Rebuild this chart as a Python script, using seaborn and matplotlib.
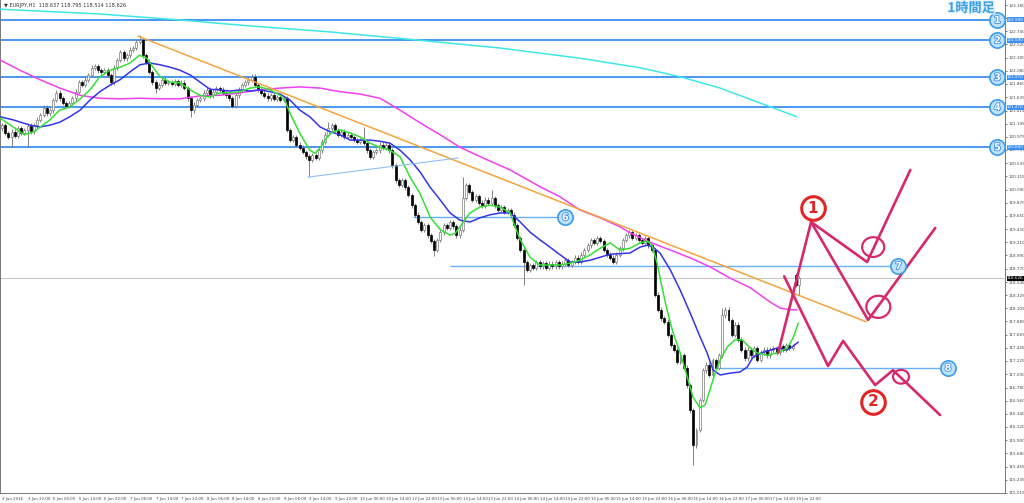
import numpy as np
import pandas as pd
import matplotlib
matplotlib.use("Agg")
import matplotlib.pyplot as plt
import matplotlib.patheffects as pe
from matplotlib.patches import Ellipse
import seaborn as sns

# ---- EURJPY H1 closes (one value per bar) ----
closes = [
    121.17, 121.04, 120.97, 121.06, 120.99, 121.12, 121.04, 121.09, 121.16, 121.07,
    121.17, 121.26, 121.34, 121.46, 121.37, 121.42, 121.59, 121.71, 121.62, 121.54,
    121.49, 121.54, 121.62, 121.73, 121.89, 121.84, 121.93, 122.01, 122.13, 122.16,
    122.09, 122.06, 122.09, 122.01, 121.89, 122.13, 122.26, 122.39, 122.29, 122.34,
    122.43, 122.46, 122.56, 122.59, 122.34, 122.23, 122.06, 121.89, 121.79, 121.84,
    121.93, 121.88, 121.89, 121.86, 121.91, 121.84, 121.88, 121.79, 121.62, 121.42,
    121.51, 121.59, 121.62, 121.71, 121.76, 121.67, 121.73, 121.79, 121.76, 121.71,
    121.67, 121.62, 121.49, 121.67, 121.76, 121.84, 121.89, 121.93, 121.98, 121.84,
    121.76, 121.71, 121.66, 121.62, 121.67, 121.61, 121.64, 121.59, 121.62, 121.09,
    120.92, 120.97, 120.84, 120.79, 120.72, 120.65, 120.59, 120.67, 120.62, 120.75,
    120.89, 121.01, 121.12, 121.17, 121.09, 121.01, 121.06, 120.97, 121.01, 120.97,
    120.92, 120.89, 120.92, 120.87, 120.75, 120.64, 120.72, 120.75, 120.84, 120.79,
    120.84, 120.75, 120.50, 120.25, 120.17, 120.25, 120.13, 120.00, 119.83, 119.67,
    119.55, 119.42, 119.50, 119.33, 119.23, 119.08, 119.25, 119.38, 119.50, 119.45,
    119.55, 119.48, 119.33, 119.42, 119.95, 120.17, 120.05, 119.92, 119.98, 119.87,
    119.83, 119.92, 119.87, 119.95, 119.83, 119.75, 119.80, 119.72, 119.75, 119.67,
    119.50, 119.28, 119.08, 118.88, 118.75, 118.83, 118.78, 118.88, 118.81, 118.86,
    118.78, 118.85, 118.81, 118.88, 118.81, 118.85, 118.91, 118.83, 118.88, 118.95,
    118.88, 119.00, 119.08, 119.16, 119.25, 119.20, 119.28, 119.23, 119.08, 119.00,
    118.95, 118.88, 119.00, 119.11, 119.25, 119.33, 119.38, 119.28, 119.33, 119.25,
    119.20, 119.28, 119.16, 119.08, 118.33, 118.08, 117.94, 117.88, 117.66, 117.49,
    117.41, 117.21, 117.32, 117.11, 116.82, 116.40, 115.81, 116.07, 116.57, 117.07,
    117.16, 116.99, 117.24, 117.11, 117.32, 117.99, 118.08, 117.91, 117.66, 117.83,
    117.58, 117.41, 117.27, 117.41, 117.32, 117.44, 117.24, 117.37, 117.41, 117.32,
    117.41, 117.44, 117.37, 117.47, 117.41, 117.49, 117.44, 117.47, 118.50, 118.61,
]
first_open = 121.12
gap_opens = {248: 118.66}          # weekend gap on Monday open
wick_high = {43: 122.68, 78: 122.03, 102: 121.22, 113: 121.14, 144: 120.30,
             153: 120.09, 196: 119.42, 225: 118.11}
wick_low = {3: 120.80, 8: 120.80, 48: 121.71, 59: 121.30, 96: 120.30,
            135: 118.98, 163: 118.50, 216: 115.48, 249: 118.33}

# ---- moving averages (bar, price) ----
ma_fast = [(-0.6, 121.29), (7, 121.01), (10, 121.06), (15, 121.26), (18, 121.42), (21, 121.47),
           (24, 121.59), (27.5, 121.76), (30.6, 121.98), (33.8, 122.09), (37, 122.14), (40, 122.21),
           (43, 122.34), (45.3, 122.29), (47.2, 122.14), (49.4, 121.98), (52.5, 121.89), (55.6, 121.88),
           (58.8, 121.76), (61.9, 121.67), (65, 121.64), (68, 121.71), (71, 121.71), (74.4, 121.73),
           (77.5, 121.79), (80.6, 121.81), (83.8, 121.76), (86.9, 121.67), (88.4, 121.59), (90, 121.37),
           (93, 121.04), (96.2, 120.75), (97.8, 120.70), (99.4, 120.79), (101.6, 120.97), (103.4, 121.06),
           (105.6, 121.09), (108.8, 121.04), (112, 120.97), (115, 120.87), (118, 120.80), (121.2, 120.75),
           (124.4, 120.64), (127.5, 120.30), (130.6, 120.03), (133.8, 119.63), (137, 119.42), (140, 119.33),
           (141.6, 119.36), (143.1, 119.47), (146.2, 119.70), (149.4, 119.80), (152.5, 119.83), (155.6, 119.80),
           (158.8, 119.70), (160.3, 119.47), (162, 119.25), (165, 118.96), (168, 118.83), (171, 118.83),
           (174.4, 118.83), (177.5, 118.86), (180.6, 118.91), (183.8, 119.00), (186.9, 119.11), (190, 119.20),
           (193.1, 119.08), (196.2, 119.11), (199.4, 119.20), (201.6, 119.23), (203.1, 119.16), (204.7, 118.86),
           (206.2, 118.46), (207.8, 118.08), (209.7, 117.69), (211.9, 117.36), (214.1, 116.96), (215.9, 116.62),
           (218.1, 116.44), (219.7, 116.49), (221.2, 116.74), (222.8, 117.02), (224.4, 117.24), (226.6, 117.46),
           (229.1, 117.58), (231.2, 117.58), (233.8, 117.44), (235.9, 117.36), (239, 117.32), (242.2, 117.36),
           (245.3, 117.44), (247.2, 117.61), (248.8, 117.86)]
ma_mid = [(-0.6, 121.31), (3.4, 121.26), (8.8, 121.17), (11.9, 121.14), (15, 121.17), (18.1, 121.22),
          (21.2, 121.31), (24.4, 121.42), (27.5, 121.59), (30.6, 121.73), (33.8, 121.84), (36.9, 121.93),
          (40, 122.06), (43.1, 122.18), (46.2, 122.21), (49.4, 122.18), (52.5, 122.14), (55.6, 122.09),
          (58.8, 122.01), (61.9, 121.89), (65, 121.77), (68.1, 121.76), (71.2, 121.74), (74.4, 121.76),
          (77.5, 121.74), (80.6, 121.76), (83.8, 121.73), (86.9, 121.69), (90, 121.59), (93.1, 121.42),
          (96.2, 121.31), (99.4, 121.14), (102.5, 121.06), (105.6, 121.01), (108.8, 120.92), (111.9, 120.92),
          (115, 120.92), (118.1, 120.90), (121.2, 120.87), (124.4, 120.75), (127.5, 120.59), (130.6, 120.39),
          (133.8, 120.13), (136.9, 119.92), (140, 119.70), (143.1, 119.58), (146.2, 119.55), (149.4, 119.62),
          (152.5, 119.67), (155.6, 119.70), (158.8, 119.70), (161.9, 119.55), (165, 119.38), (168.1, 119.25),
          (171.2, 119.13), (174.4, 119.00), (177.5, 118.88), (180.6, 118.88), (183.8, 118.91), (186.9, 118.96),
          (190, 119.01), (196.2, 119.03), (199.4, 119.13), (201.6, 119.16), (203.4, 119.13), (205.6, 119.03),
          (208.8, 118.75), (211.9, 118.41), (215, 118.03), (218.1, 117.63), (220.3, 117.36), (222.2, 117.07),
          (224.4, 116.99), (227.5, 117.02), (230.6, 117.04), (232.8, 117.12), (234.7, 117.29), (237.8, 117.37),
          (242.2, 117.44), (245.3, 117.41), (246.9, 117.46), (248.8, 117.54)]
ma_slow = [(-0.6, 122.26), (5.6, 122.09), (11.9, 121.93), (18.1, 121.79), (24.4, 121.67), (30.6, 121.62),
           (36.9, 121.61), (43.1, 121.62), (49.4, 121.61), (55.6, 121.61), (61.9, 121.66), (68.1, 121.67),
           (74.4, 121.71), (80.6, 121.76), (86.9, 121.79), (93.1, 121.81), (99.4, 121.79), (105.6, 121.73),
           (111.9, 121.69), (118.1, 121.62), (124.4, 121.42), (130.6, 121.21), (136.9, 121.01), (143.1, 120.80),
           (151.6, 120.59), (158.8, 120.42), (168.1, 120.14), (174.4, 119.97), (180.6, 119.75), (186.9, 119.62),
           (193.1, 119.47), (196.2, 119.37), (202.5, 119.21), (208.8, 119.08), (215, 118.95), (221.2, 118.80),
           (227.5, 118.61), (233.8, 118.45), (240, 118.21), (243.1, 118.11), (246.2, 118.08), (248.4, 118.08)]
ma_long = [(-0.6, 123.11), (30.6, 123.03), (55.6, 122.93), (77.5, 122.83), (102.5, 122.73), (130.6, 122.59),
           (155.6, 122.46), (180.6, 122.29), (199.4, 122.13), (211.9, 121.98), (224.4, 121.79), (236.9, 121.54),
           (248.4, 121.31)]

# ---- drawn objects ----
level_prices = [122.93, 122.59, 121.97, 121.47, 120.80]      # lines 1-5
level_marks = ["1", "2", "3", "4", "5"]
short_levels = [(128.4, 173.4, 119.63, "6"), (140, 277.5, 118.81, "7"), (223.8, 293, 117.11, "8")]
trend_orange = [(42.5, 122.66), (270, 117.88)]
trend_support = [(95.6, 120.30), (142.5, 120.62)]
scenario_up_1 = [(242.5, 117.36), (252.8, 119.55), (270.3, 118.88), (283.8, 120.42)]
scenario_up_2 = [(252.8, 119.55), (270.6, 117.91), (291.6, 119.45)]
scenario_down = [(244.4, 118.64), (258.1, 117.14), (262.8, 117.56), (272.8, 116.82), (278.4, 117.07), (293.1, 116.32)]
rings = [(272.2, 119.13, 6.9, 0.33), (273.8, 118.13, 7.5, 0.37), (280.9, 116.96, 5.0, 0.23)]
red_marks = [(253.4, 119.78, "1"), (272.2, 116.54, "2")]
current_price = 118.61

ytick_labels = ["123.180", "122.960", "122.740", "122.520", "122.300", "122.080", "121.860", "121.635",
                "121.415", "121.195", "120.975", "120.755", "120.535", "120.315", "120.090", "119.870",
                "119.650", "119.430", "119.210", "118.990", "118.770", "118.545", "118.325", "118.105",
                "117.885", "117.665", "117.445", "117.225", "117.000", "116.780", "116.560", "116.340",
                "116.120", "115.900", "115.680", "115.455", "115.235", "115.015"]
xtick_labels = ["3 Jun 2016", "3 Jun 22:00", "6 Jun 06:00", "6 Jun 14:00", "6 Jun 22:00", "7 Jun 06:00",
                "7 Jun 14:00", "7 Jun 22:00", "8 Jun 06:00", "8 Jun 14:00", "8 Jun 22:00", "9 Jun 06:00",
                "9 Jun 14:00", "9 Jun 22:00", "10 Jun 06:00", "10 Jun 14:00", "12 Jun 22:00", "13 Jun 06:00",
                "13 Jun 14:00", "13 Jun 22:00", "14 Jun 06:00", "14 Jun 14:00", "14 Jun 22:00", "15 Jun 06:00",
                "15 Jun 14:00", "15 Jun 22:00", "16 Jun 06:00", "16 Jun 14:00", "16 Jun 22:00", "17 Jun 06:00",
                "17 Jun 14:00", "19 Jun 22:00"]

# ---- build OHLC ----
c = np.array(closes)
o = np.r_[first_open, c[:-1]]
for k, v in gap_opens.items():
    o[k] = v
hi = np.maximum(o, c) + 0.04
lo = np.minimum(o, c) - 0.04
for k, v in wick_high.items():
    hi[k] = v
for k, v in wick_low.items():
    lo[k] = v
bars = np.arange(len(c))
up = c >= o

sns.set_theme(style="white")
plt.rcParams['font.family'] = ['DejaVu Sans', 'Noto Sans CJK JP']

fig = plt.figure(figsize=(10.24, 5.03), dpi=100)
ax = fig.add_axes([0.0, 0.0199, 0.9815, 0.9801])
ax.set_xlim(-0.6, 313.4)
ax.set_ylim(115.015, 123.264)

# current price line
ax.axhline(current_price, color="#c8c8c8", lw=0.8, zorder=1)

# horizontal levels
ax.hlines(level_prices, -0.6, 308.7, color="#3d8ff0", lw=1.3, zorder=2)
for a, b, p, m in short_levels:
    ax.hlines(p, a, b, color="#6aaef5", lw=1.0, zorder=2)

# candles
ax.vlines(bars, lo, hi, color="#6e6e6e", lw=0.6, zorder=3)
ax.bar(bars[up], np.maximum(c[up] - o[up], 0.012), bottom=o[up], width=0.62,
       color="white", edgecolor="#7a7a7a", linewidth=0.5, zorder=4)
ax.bar(bars[~up], np.maximum(o[~up] - c[~up], 0.012), bottom=c[~up], width=0.62,
       color="black", edgecolor="black", linewidth=0.5, zorder=4)

# moving averages through seaborn
ma_frames = []
for name, pts in [("long", ma_long), ("slow", ma_slow), ("mid", ma_mid), ("fast", ma_fast)]:
    df = pd.DataFrame(pts, columns=["bar", "price"])
    df["ma"] = name
    ma_frames.append(df)
ma_df = pd.concat(ma_frames, ignore_index=True)
sns.lineplot(data=ma_df, x="bar", y="price", hue="ma", sort=False, estimator=None, legend=False,
             palette={"long": "#3ee6e6", "slow": "#f040f0", "mid": "#3434ea", "fast": "#34e034"},
             linewidth=1.1, ax=ax, zorder=5)

# trendlines
for pts, col, lw in [(trend_orange, "#f5a33c", 1.1), (trend_support, "#8fc0f5", 0.8)]:
    xs, ys = zip(*pts)
    ax.plot(xs, ys, color=col, lw=lw, zorder=5)

# scenarios
for pts in [scenario_up_1, scenario_up_2, scenario_down]:
    xs, ys = zip(*pts)
    ax.plot(xs, ys, color="#d6296c", lw=1.9, zorder=6, solid_capstyle="round")
for x0, y0, w, h in rings:
    ax.add_patch(Ellipse((x0, y0), w, h, fill=False, ec="#d6296c", lw=1.6, zorder=6))
for x0, y0, t in red_marks:
    ax.plot(x0, y0, "o", ms=17, mfc="white", mec="#e22424", mew=2.2, zorder=7)
    ax.text(x0, y0, t, color="#e22424", fontsize=11, fontweight="bold", ha="center", va="center", zorder=8)

# blue numbered circles
glow = [pe.withStroke(linewidth=1.2, foreground="#3d8ff0")]
marks = [(311, p, m) for p, m in zip(level_prices, level_marks)]
marks += [(b + 2.6, p, m) for a, b, p, m in short_levels]
for x0, y0, t in marks:
    ax.plot(x0, y0, "o", ms=11, mfc="#bfe2fb", mec="#3d9be9", mew=1.2, zorder=7)
    ax.text(x0, y0, t, color="white", fontsize=7, fontweight="bold", ha="center", va="center",
            path_effects=glow, zorder=8)

# title on chart
ax.text(310.3, 123.13, "1時間足", family=["Noto Sans CJK JP", "DejaVu Sans"], fontsize=9.5,
        fontweight="bold", color="#3aa0e8", ha="right", va="center",
        path_effects=[pe.withStroke(linewidth=2, foreground="#e8f4fd")], zorder=8)
ax.text(0.004, 0.993, "▼ EURJPY,H1  118.637 118.795 118.514 118.626", transform=ax.transAxes,
        fontsize=3.6, color="#333333", va="top", ha="left")

# axes styling
ax.yaxis.tick_right()
ax.set_yticks([float(v) for v in ytick_labels], labels=ytick_labels)
ax.set_xticks(np.arange(len(xtick_labels)) * 8, labels=xtick_labels)
ax.tick_params(axis="y", length=1.5, width=0.5, pad=1.0, labelsize=3.0, colors="#444444")
ax.tick_params(axis="x", length=2, width=0.5, pad=0.8, labelsize=2.8, colors="#444444")
for lab in ax.get_xticklabels():
    lab.set_horizontalalignment("left")
ax.set_xlabel("")
ax.set_ylabel("")
for side in ["left", "bottom", "right"]:
    ax.spines[side].set_color("#777777")
    ax.spines[side].set_linewidth(0.7)
ax.spines["top"].set_visible(False)

# price tags on the axis
ytr = ax.get_yaxis_transform()
for p in level_prices:
    ax.text(1.002, p, f"{p:.3f}", transform=ytr, fontsize=3.0, color="white", va="center", ha="left",
            bbox=dict(boxstyle="square,pad=0.12", fc="#3d8ff0", ec="none"), clip_on=False)
ax.text(1.002, current_price, "118.626", transform=ytr, fontsize=3.0, color="white", va="center", ha="left",
        bbox=dict(boxstyle="square,pad=0.12", fc="black", ec="none"), clip_on=False)

fig.savefig("out.png", dpi=100, facecolor="white")
